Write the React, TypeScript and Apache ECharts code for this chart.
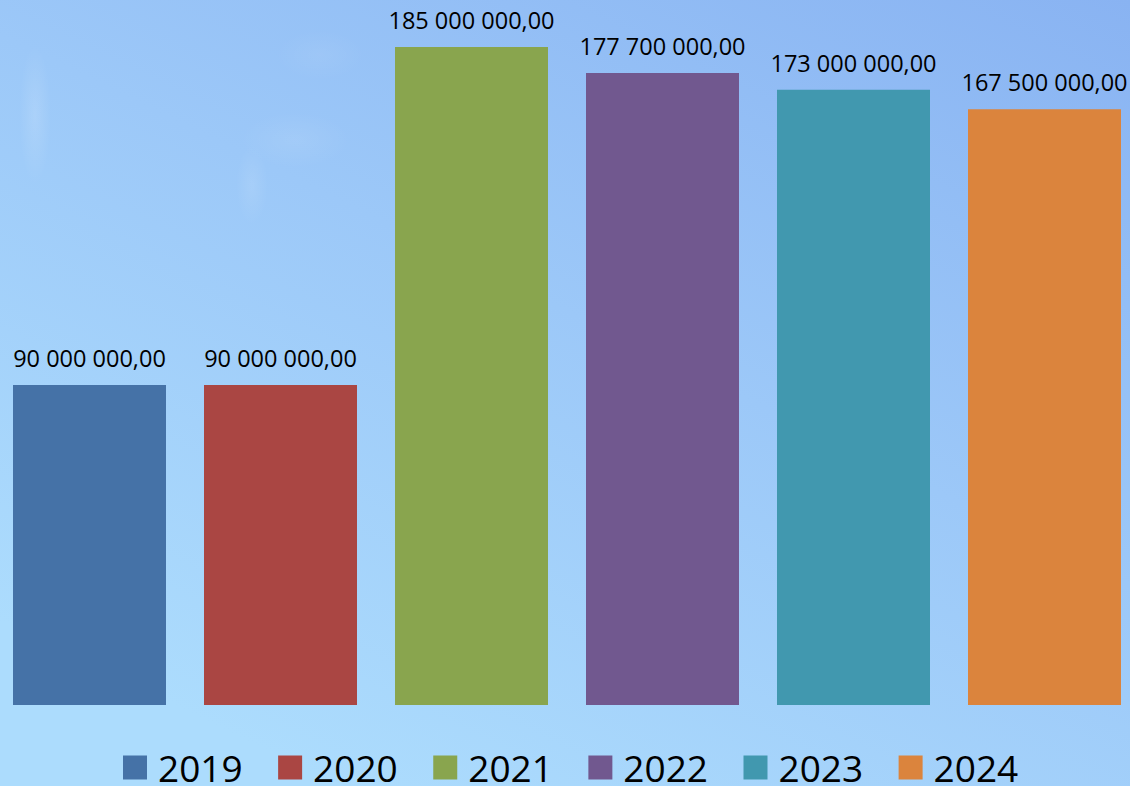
import React, { useEffect, useRef } from "react";
import * as echarts from "echarts";

const years = ["2019", "2020", "2021", "2022", "2023", "2024"];
const values = [90000000, 90000000, 185000000, 177700000, 173000000, 167500000];
const colors = ["#4572A7", "#AA4643", "#89A54E", "#71588F", "#4198AF", "#DB843D"];
const category = ["Budget"];
const yMax = 185000000;

function fmt(v: number): string {
  const [intPart, dec] = v.toFixed(2).split(".");
  const withSpaces = intPart.replace(/\B(?=(\d{3})+(?!\d))/g, " ");
  return withSpaces + "," + dec;
}

export default function App() {
  const ref = useRef<HTMLDivElement>(null);
  useEffect(() => {
    document.body.style.margin = "0";
    const chart = echarts.init(ref.current!, null, { renderer: "svg" });
    const font = "'Open Sans', 'Noto Sans', sans-serif";
    const cloud = (cx: number, cy: number, rx: number, ry: number, a: number) => ({
      type: "ellipse",
      silent: true,
      shape: { cx, cy, rx, ry },
      style: {
        fill: {
          type: "radial",
          x: 0.5,
          y: 0.5,
          r: 0.5,
          colorStops: [
            { offset: 0, color: `rgba(255,255,255,${a})` },
            { offset: 1, color: "rgba(255,255,255,0)" },
          ],
        },
      },
    });
    chart.setOption({
      animation: false,
      backgroundColor: {
        type: "linear",
        x: 1,
        y: 0,
        x2: 0.3,
        y2: 1,
        colorStops: [
          { offset: 0, color: "#89b3f2" },
          { offset: 0.5, color: "#9cc8f8" },
          { offset: 1, color: "#acdcfd" },
        ],
      },
      graphic: [
        cloud(35, 115, 16, 70, 0.14),
        cloud(295, 140, 55, 28, 0.08),
        cloud(252, 185, 16, 40, 0.1),
        cloud(320, 55, 45, 25, 0.06),
      ],
      grid: { left: 13, right: 9, top: 47, bottom: 81, containLabel: false },
      legend: {
        data: years,
        left: 118,
        top: 744,
        itemWidth: 24,
        itemHeight: 24,
        itemGap: 35.5,
        icon: "rect",
        textStyle: {
          fontSize: 37,
          color: "#000",
          fontFamily: font,
          padding: [0, 0, 0, 6],
        },
      },
      xAxis: {
        type: "category",
        data: category,
        show: false,
      },
      yAxis: {
        type: "value",
        min: 0,
        max: yMax,
        show: false,
        splitLine: { show: false },
      },
      series: years.map((y, i) => ({
        name: y,
        type: "bar",
        data: [values[i]],
        barCategoryGap: "0%",
        barGap: "24.84%",
        itemStyle: { color: colors[i] },
        label: {
          show: true,
          position: "top",
          distance: 15,
          color: "#000",
          fontSize: 23.5,
          fontFamily: font,
          formatter: (p: any) => fmt(p.value),
        },
      })),
    });
    return () => chart.dispose();
  }, []);
  return (
    <div
      ref={ref}
      style={{ position: "fixed", left: 0, top: 0, width: 1130, height: 786 }}
    />
  );
}
